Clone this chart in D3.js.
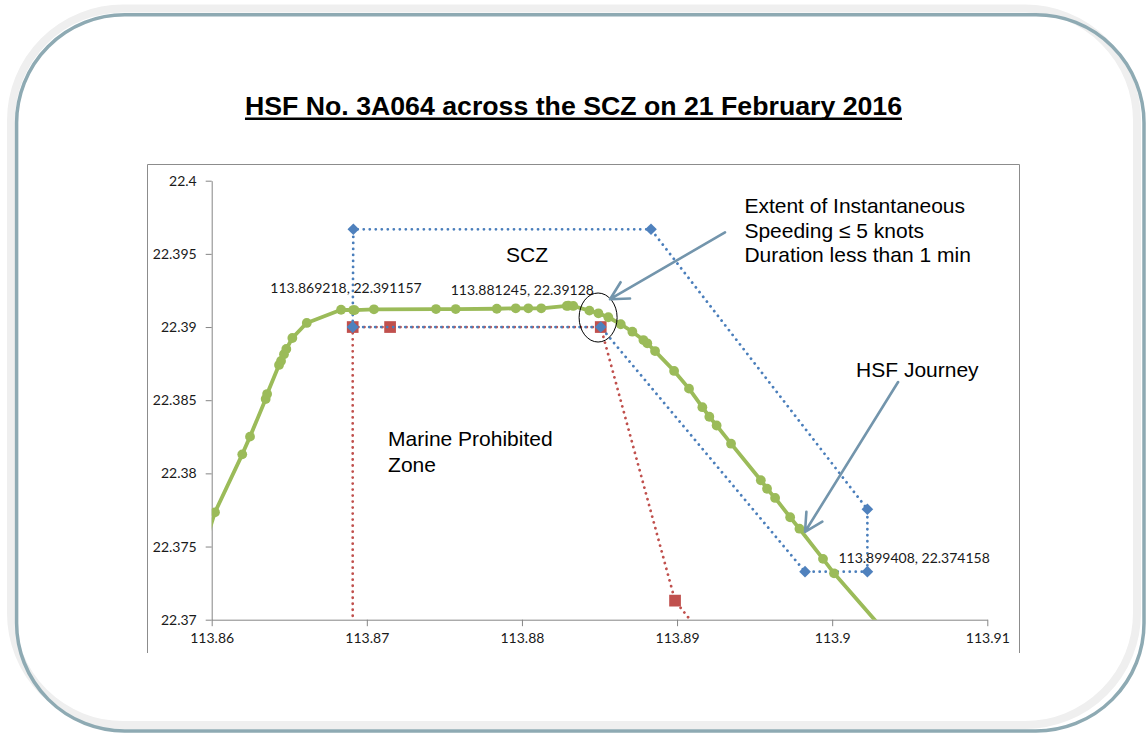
<!DOCTYPE html>
<html>
<head>
<meta charset="utf-8">
<script src="https://cdn.jsdelivr.net/npm/d3@7"></script>
<style>
  body { margin: 0; background: #fff; }
  svg { display: block; }
</style>
</head>
<body>
<div id="chart"></div>
<script>
// HSF journey track (lon / lat)
const journeyLon = [113.85925, 113.86021, 113.86197, 113.86247, 113.86348, 113.86357, 113.86434, 113.86447,
  113.86466, 113.86481, 113.86520, 113.86613, 113.86834, 113.86912, 113.869218, 113.87046, 113.87446,
  113.87573, 113.87838, 113.87960, 113.88041, 113.881245, 113.88289, 113.88299, 113.88331, 113.88435,
  113.88493, 113.88557, 113.88637, 113.88712, 113.88783, 113.88808, 113.88858, 113.88981, 113.89077,
  113.89163, 113.89208, 113.89255, 113.89348, 113.89540, 113.89580, 113.89632, 113.89729, 113.89789,
  113.899408, 113.90012, 113.90438];
const journeyLat = [22.37408, 22.37734, 22.38130, 22.38251, 22.38508, 22.38542, 22.38741, 22.38768,
  22.38814, 22.38850, 22.38925, 22.39028, 22.39118, 22.39116, 22.391157, 22.39121, 22.39123,
  22.39123, 22.39125, 22.39128, 22.39128, 22.39128, 22.39144, 22.39146, 22.39144, 22.39112,
  22.39094, 22.39067, 22.39019, 22.38968, 22.38911, 22.38889, 22.38836, 22.38700, 22.38579,
  22.38452, 22.38387, 22.38327, 22.38203, 22.37953, 22.37895, 22.37832, 22.37700, 22.37622,
  22.374158, 22.37317, 22.36800];

// SCZ boundary (blue)
const sczLon = [113.86909, 113.86913, 113.88832, 113.90227, 113.90227, 113.89825, 113.88508, 113.86909];
const sczLat = [22.39, 22.39668, 22.39668, 22.37755, 22.37328, 22.37328, 22.39, 22.39];

// Marine Prohibited Zone boundary (red)
const mpzLon = [113.86909, 113.86909, 113.8715, 113.88508, 113.88987, 113.89187];
const mpzLat = [22.36, 22.39, 22.39, 22.39, 22.3713, 22.36861];

// labelled track points
const labelLon = [113.869218, 113.881245, 113.899408];
const labelLat = [22.391157, 22.39128, 22.374158];
const labelText = ["113.869218, 22.391157", "113.881245, 22.39128", "113.899408, 22.374158"];

// axes
const xTicks = [113.86, 113.87, 113.88, 113.89, 113.9, 113.91];
const xTickLabels = ["113.86", "113.87", "113.88", "113.89", "113.9", "113.91"];
const yTicks = [22.37, 22.375, 22.38, 22.385, 22.39, 22.395, 22.4];
const yTickLabels = ["22.37", "22.375", "22.38", "22.385", "22.39", "22.395", "22.4"];

const titleText = "HSF No. 3A064 across the SCZ on 21 February 2016";

const W = 1147, H = 733;
const plot = { left: 211.7, right: 987.3, top: 180.7, bottom: 619.7 };

const svg = d3.select("#chart")
  .append("svg")
  .attr("width", W)
  .attr("height", H);

// rounded frame
svg.append("rect")
  .attr("x", 11).attr("y", 8.5)
  .attr("width", 1126).attr("height", 716.5)
  .attr("rx", 112).attr("ry", 112)
  .attr("fill", "#fff")
  .attr("stroke", "#efefef")
  .attr("stroke-width", 8);
svg.append("rect")
  .attr("x", 16.6).attr("y", 14.8)
  .attr("width", 1127.4).attr("height", 716.2)
  .attr("rx", 108).attr("ry", 108)
  .attr("fill", "none")
  .attr("stroke", "#8eaab3")
  .attr("stroke-width", 3.5);

// title + underline
const title = svg.append("text")
  .attr("x", W / 2)
  .attr("y", 115)
  .attr("text-anchor", "middle")
  .style("font-family", "'Liberation Sans', Arial, sans-serif")
  .style("font-weight", "bold")
  .style("font-size", "26.7px")
  .attr("fill", "#000")
  .text(titleText);
const tw = title.node().getComputedTextLength();
svg.append("line")
  .attr("x1", W / 2 - tw / 2).attr("x2", W / 2 + tw / 2)
  .attr("y1", 118.8).attr("y2", 118.8)
  .attr("stroke", "#000")
  .attr("stroke-width", 2.6);

// chart area border (bottom edge is cut off)
svg.append("path")
  .attr("d", "M147.5,653 V164.5 H1019.5 V653")
  .attr("fill", "none")
  .attr("stroke", "#8c8c8c")
  .attr("stroke-width", 1);

// scales
const x = d3.scaleLinear().domain([113.86, 113.91]).range([plot.left, plot.right]);
const y = d3.scaleLinear().domain([22.37, 22.4]).range([plot.bottom, plot.top]);

const tickFont = "Lato, 'Open Sans', sans-serif";

// axes
const yAxis = svg.append("g")
  .attr("transform", `translate(${plot.left},0)`)
  .call(d3.axisLeft(y)
    .tickValues(yTicks)
    .tickFormat((d, i) => yTickLabels[i])
    .tickSize(6)
    .tickSizeOuter(0)
    .tickPadding(9));

const xAxis = svg.append("g")
  .attr("transform", `translate(0,${plot.bottom})`)
  .call(d3.axisBottom(x)
    .tickValues(xTicks)
    .tickFormat((d, i) => xTickLabels[i])
    .tickSize(6.5)
    .tickSizeOuter(0)
    .tickPadding(7));

[xAxis, yAxis].forEach(function (g) {
  g.select(".domain").attr("stroke", "#868686");
  g.selectAll(".tick line").attr("stroke", "#868686");
  g.selectAll(".tick text")
    .attr("fill", "#1a1a1a")
    .style("font-family", tickFont)
    .style("font-size", "14px");
});

// clip to the plot area
svg.append("clipPath")
  .attr("id", "plotClip")
  .append("rect")
  .attr("x", plot.left).attr("y", plot.top)
  .attr("width", plot.right - plot.left)
  .attr("height", plot.bottom - plot.top);

const g = svg.append("g").attr("clip-path", "url(#plotClip)");

const line = d3.line().x(d => x(d[0])).y(d => y(d[1]));

const mpz = mpzLon.map((v, i) => [v, mpzLat[i]]);
const scz = sczLon.map((v, i) => [v, sczLat[i]]);
const journey = journeyLon.map((v, i) => [v, journeyLat[i]]);

// red: Marine Prohibited Zone
g.append("path")
  .datum(mpz)
  .attr("d", line)
  .attr("fill", "none")
  .attr("stroke", "#c0504d")
  .attr("stroke-width", 2.8)
  .attr("stroke-linecap", "round")
  .attr("stroke-dasharray", "0.01,6");
g.selectAll(".mpzPt")
  .data(mpz)
  .join("path")
  .attr("class", "mpzPt")
  .attr("transform", d => `translate(${x(d[0])},${y(d[1])})`)
  .attr("d", d3.symbol(d3.symbolSquare, 137))
  .attr("fill", "#c0504d");

// blue: SCZ
g.append("path")
  .datum(scz)
  .attr("d", line)
  .attr("fill", "none")
  .attr("stroke", "#4a7ebb")
  .attr("stroke-width", 2.8)
  .attr("stroke-linecap", "round")
  .attr("stroke-dasharray", "0.01,6");
g.selectAll(".sczPt")
  .data(scz)
  .join("path")
  .attr("class", "sczPt")
  .attr("transform", d => `translate(${x(d[0])},${y(d[1])}) rotate(45)`)
  .attr("d", d3.symbol(d3.symbolSquare, 68))
  .attr("fill", "#4f81bd");

// green: HSF journey
g.append("path")
  .datum(journey)
  .attr("d", line)
  .attr("fill", "none")
  .attr("stroke", "#9bbb59")
  .attr("stroke-width", 3.8)
  .attr("stroke-linejoin", "round");
g.selectAll(".hsfPt")
  .data(journey)
  .join("circle")
  .attr("class", "hsfPt")
  .attr("cx", d => x(d[0]))
  .attr("cy", d => y(d[1]))
  .attr("r", 4.9)
  .attr("fill", "#9bbb59");

// data labels
const labelOffsets = [[-84.4, -16.7], [-90.6, -13.2], [15.4, 4.4]];
svg.selectAll(".dataLabel")
  .data(labelText)
  .join("text")
  .attr("class", "dataLabel")
  .attr("x", (d, i) => x(labelLon[i]) + labelOffsets[i][0])
  .attr("y", (d, i) => y(labelLat[i]) + labelOffsets[i][1])
  .attr("fill", "#1a1a1a")
  .style("font-family", tickFont)
  .style("font-size", "14px")
  .text(d => d);

// annotations
const annoFont = "'Liberation Sans', Arial, sans-serif";
function addText(lon, lat, lines, lineGap) {
  const t = svg.append("text")
    .attr("x", x(lon))
    .attr("y", y(lat))
    .attr("fill", "#000")
    .style("font-family", annoFont)
    .style("font-size", "21px");
  lines.forEach(function (s, i) {
    t.append("tspan")
      .attr("x", x(lon))
      .attr("dy", i === 0 ? 0 : lineGap)
      .text(s);
  });
}
addText(113.87897, 22.39444, ["SCZ"], 0);
addText(113.87137, 22.38187, ["Marine Prohibited", "Zone"], 25.5);
addText(113.89434, 22.39777, ["Extent of Instantaneous", "Speeding \u2264 5 knots", "Duration less than 1 min"], 24.4);
addText(113.90154, 22.38659, ["HSF Journey"], 0);

// ellipse around the speeding section
svg.append("ellipse")
  .attr("cx", x(113.88491))
  .attr("cy", y(22.39065))
  .attr("rx", 19)
  .attr("ry", 24.5)
  .attr("fill", "none")
  .attr("stroke", "#000")
  .attr("stroke-width", 1);

// arrows
function addArrow(lon0, lat0, lon1, lat1) {
  const x0 = x(lon0), y0 = y(lat0), x1 = x(lon1), y1 = y(lat1);
  const ang = Math.atan2(y0 - y1, x0 - x1);
  const len = 20, spread = 28 * Math.PI / 180;
  const w1 = [x1 + len * Math.cos(ang - spread), y1 + len * Math.sin(ang - spread)];
  const w2 = [x1 + len * Math.cos(ang + spread), y1 + len * Math.sin(ang + spread)];
  svg.append("path")
    .attr("d", `M${x0},${y0} L${x1},${y1} M${w1[0]},${w1[1]} L${x1},${y1} L${w2[0]},${w2[1]}`)
    .attr("fill", "none")
    .attr("stroke", "#7395ac")
    .attr("stroke-width", 2.6)
    .attr("stroke-linecap", "round")
    .attr("stroke-linejoin", "round");
}
addArrow(113.89309, 22.39647, 113.88568, 22.39190);
addArrow(113.90425, 22.38624, 113.89825, 22.37601);
</script>
</body>
</html>
